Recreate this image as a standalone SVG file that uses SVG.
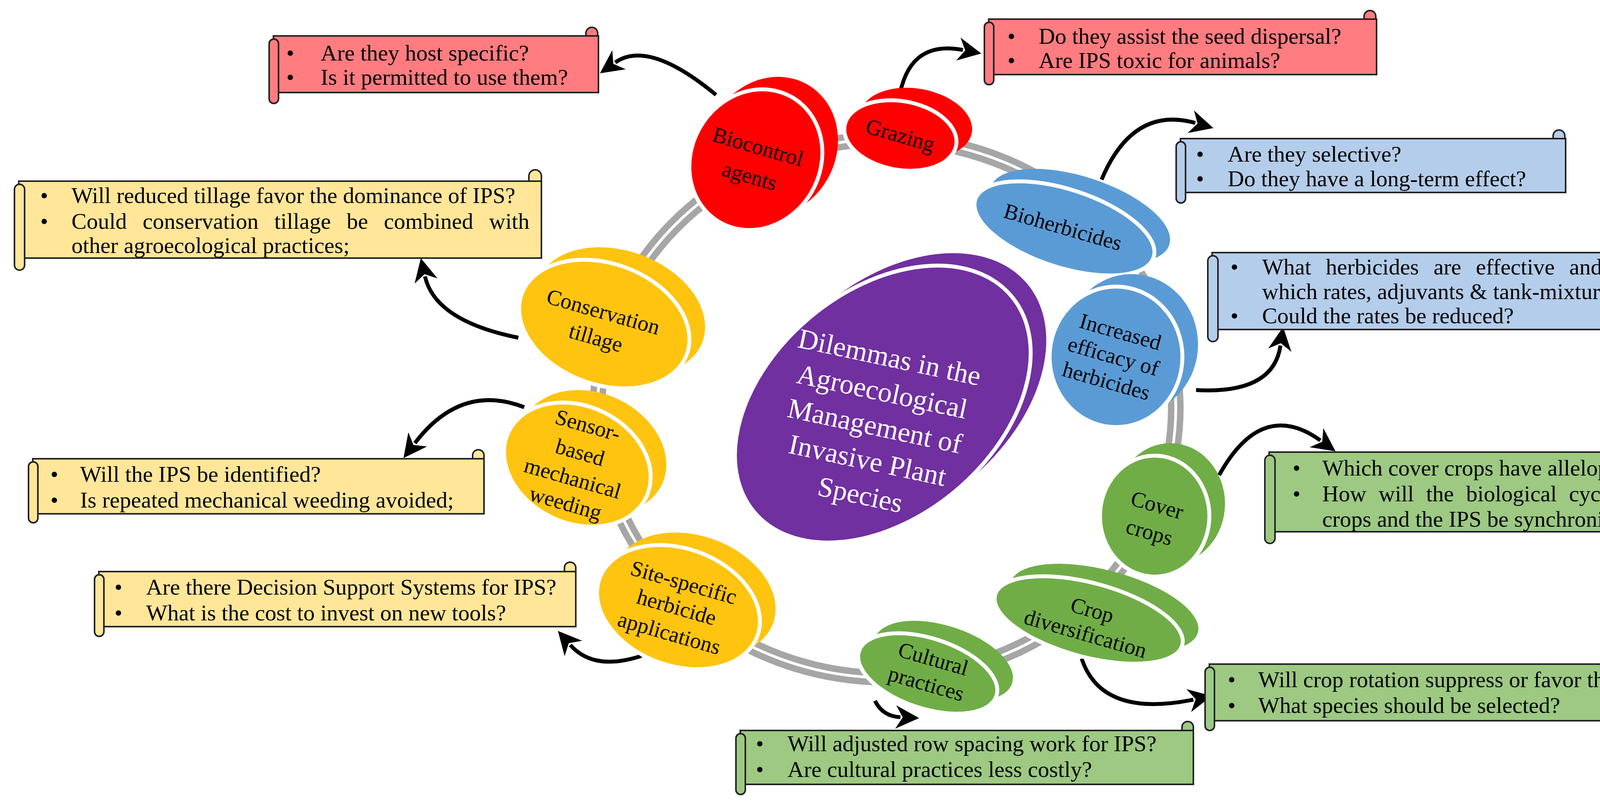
<svg xmlns="http://www.w3.org/2000/svg" width="4603" height="2067" viewBox="0 0 4603 2067">
<style>
.bt{font-family:"Liberation Serif","DejaVu Serif",serif;font-size:58px;fill:#000}
.nt{font-family:"Liberation Serif","DejaVu Serif",serif;font-size:56px;fill:#000;text-anchor:middle}
.pt{font-family:"Liberation Serif","DejaVu Serif",serif;font-size:72px;fill:#fff;text-anchor:middle}
.sc{stroke:#222;stroke-width:4}
.fr{stroke:#fff;stroke-width:10}
.arr{fill:none;stroke:#000;stroke-width:10;marker-end:url(#ah)}
</style>
<defs>
<marker id="ah" viewBox="0 0 10 10" refX="2" refY="5" markerWidth="6" markerHeight="6" orient="auto" markerUnits="strokeWidth">
<path d="M0,0 L10,5 L0,10 L3,5 Z" fill="#000"/>
</marker>
</defs>
<rect width="4603" height="2067" fill="#fff"/>
<g id="connectors">
<ellipse cx="2270" cy="1046" rx="740" ry="690" fill="none" stroke="#A6A6A6" stroke-width="40"/>
<ellipse cx="2270" cy="1046" rx="740" ry="690" fill="none" stroke="#fff" stroke-width="7"/>
<path class="arr" d="M1833,243 Q1660,100 1575,160"/>
<path class="arr" d="M2300,265 Q2320,100 2465,128"/>
<path class="arr" d="M2820,460 Q2900,270 3060,315"/>
<path class="arr" d="M3062,999 Q3260,1010 3278,885"/>
<path class="arr" d="M3121,1217 Q3230,1020 3380,1128"/>
<path class="arr" d="M2769,1687 Q2820,1840 3055,1792"/>
<path class="arr" d="M2240,1795 Q2260,1835 2305,1837"/>
<path class="arr" d="M1642,1680 Q1520,1720 1460,1652"/>
<path class="arr" d="M1342,1043 Q1180,980 1062,1135"/>
<path class="arr" d="M1327,865 Q1114,822 1088,708"/>
</g>
<g id="center">
<ellipse cx="2300" cy="1003" rx="430" ry="290" transform="rotate(-40 2300 1003)" fill="#7030A0"/>
<ellipse cx="2260" cy="1035" rx="430" ry="290" transform="rotate(-40 2260 1035)" fill="#7030A0" class="fr"/>
<g transform="rotate(12 2240 1090)">
<text class="pt" x="2240" y="935">Dilemmas in the</text>
<text class="pt" x="2240" y="1025">Agroecological</text>
<text class="pt" x="2240" y="1115">Management of</text>
<text class="pt" x="2240" y="1205">Invasive Plant</text>
<text class="pt" x="2240" y="1295">Species</text>
</g>
</g>
<g id="n-biocontrol">
<ellipse cx="1975" cy="377" rx="185" ry="165" transform="rotate(-60 1975 377)" fill="#FF0000"/>
<ellipse cx="1935" cy="409" rx="185" ry="165" transform="rotate(-60 1935 409)" fill="#FF0000" class="fr"/>
<g transform="rotate(16 1930 414)"><text class="nt" x="1930" y="393">Biocontrol</text><text class="nt" x="1930" y="471">agents</text></g>
</g>
<g id="n-grazing">
<ellipse cx="2345" cy="315" rx="145" ry="88" transform="rotate(10 2345 315)" fill="#FF0000"/>
<ellipse cx="2305" cy="347" rx="145" ry="88" transform="rotate(10 2305 347)" fill="#FF0000" class="fr"/>
<text class="nt" x="2305" y="365" transform="rotate(16 2305 347)">Grazing</text>
</g>
<g id="n-bioherbicides">
<ellipse cx="2765" cy="553" rx="240" ry="100" transform="rotate(18 2765 553)" fill="#5B9BD5"/>
<ellipse cx="2725" cy="585" rx="240" ry="100" transform="rotate(18 2725 585)" fill="#5B9BD5" class="fr"/>
<text class="nt" x="2720" y="600" transform="rotate(16 2720 585)">Bioherbicides</text>
</g>
<g id="n-increased">
<ellipse cx="2897" cy="882" rx="170" ry="180" fill="#5B9BD5"/>
<ellipse cx="2857" cy="914" rx="170" ry="180" fill="#5B9BD5" class="fr"/>
<g transform="rotate(16 2850 914)"><text class="nt" x="2850" y="866">Increased</text><text class="nt" x="2850" y="931">efficacy of</text><text class="nt" x="2850" y="997">herbicides</text></g>
</g>
<g id="n-cover">
<ellipse cx="2996" cy="1290" rx="140" ry="155" fill="#70AD47"/>
<ellipse cx="2956" cy="1322" rx="140" ry="155" fill="#70AD47" class="fr"/>
<g transform="rotate(16 2952 1330)"><text class="nt" x="2952" y="1311">Cover</text><text class="nt" x="2952" y="1383">crops</text></g>
</g>
<g id="n-cropdiv">
<ellipse cx="2827" cy="1556" rx="248" ry="95" transform="rotate(15 2827 1556)" fill="#70AD47"/>
<ellipse cx="2787" cy="1588" rx="248" ry="95" transform="rotate(15 2787 1588)" fill="#70AD47" class="fr"/>
<g transform="rotate(16 2787 1595)"><text class="nt" x="2787" y="1580">Crop</text><text class="nt" x="2787" y="1643">diversification</text></g>
</g>
<g id="n-cultural">
<ellipse cx="2415" cy="1693" rx="185" ry="90" transform="rotate(18 2415 1693)" fill="#70AD47"/>
<ellipse cx="2375" cy="1725" rx="185" ry="90" transform="rotate(18 2375 1725)" fill="#70AD47" class="fr"/>
<g transform="rotate(16 2380 1720)"><text class="nt" x="2380" y="1705">Cultural</text><text class="nt" x="2380" y="1771">practices</text></g>
</g>
<g id="n-site">
<ellipse cx="1777" cy="1523" rx="215" ry="150" transform="rotate(20 1777 1523)" fill="#FFC410"/>
<ellipse cx="1737" cy="1555" rx="215" ry="150" transform="rotate(20 1737 1555)" fill="#FFC410" class="fr"/>
<g transform="rotate(16 1732 1556)"><text class="nt" x="1732" y="1508">Site-specific</text><text class="nt" x="1732" y="1574">herbicide</text><text class="nt" x="1732" y="1643">applications</text></g>
</g>
<g id="n-sensor">
<ellipse cx="1518" cy="1158" rx="195" ry="150" transform="rotate(25 1518 1158)" fill="#FFC410"/>
<ellipse cx="1478" cy="1190" rx="195" ry="150" transform="rotate(25 1478 1190)" fill="#FFC410" class="fr"/>
<g transform="rotate(16 1476 1190)"><text class="nt" x="1476" y="1104">Sensor-</text><text class="nt" x="1476" y="1176">based</text><text class="nt" x="1476" y="1245">mechanical</text><text class="nt" x="1476" y="1311">weeding</text></g>
</g>
<g id="n-conservation">
<ellipse cx="1587" cy="798" rx="225" ry="155" transform="rotate(20 1587 798)" fill="#FFC410"/>
<ellipse cx="1547" cy="830" rx="225" ry="155" transform="rotate(20 1547 830)" fill="#FFC410" class="fr"/>
<g transform="rotate(16 1535 832)"><text class="nt" x="1535" y="816">Conservation</text><text class="nt" x="1535" y="885">tillage</text></g>
</g>
<g id="box-biocontrol">
<rect x="1500" y="70" width="30" height="40" rx="15" fill="#FF7C80" class="sc"/>
<rect x="700" y="92" width="832" height="145" fill="#FF7C80" class="sc"/>
<rect x="689" y="100" width="24" height="165" rx="12" fill="#FF7C80" class="sc"/>
<text class="bt" x="733" y="155">•</text><text class="bt" x="821" y="155">Are they host specific?</text>
<text class="bt" x="733" y="217">•</text><text class="bt" x="821" y="217">Is it permitted to use them?</text>
</g>
<g id="box-grazing">
<rect x="3492" y="27" width="30" height="40" rx="15" fill="#FF7C80" class="sc"/>
<rect x="2531" y="49" width="993" height="142" fill="#FF7C80" class="sc"/>
<rect x="2520" y="57" width="24" height="160" rx="12" fill="#FF7C80" class="sc"/>
<text class="bt" x="2579" y="112">•</text><text class="bt" x="2659" y="112">Do they assist the seed dispersal?</text>
<text class="bt" x="2579" y="174">•</text><text class="bt" x="2659" y="174">Are IPS toxic for animals?</text>
</g>
<g id="box-bioherbicides">
<rect x="3976" y="333" width="30" height="40" rx="15" fill="#B4CDEA" class="sc"/>
<rect x="3022" y="355" width="986" height="138" fill="#B4CDEA" class="sc"/>
<rect x="3011" y="363" width="24" height="157" rx="12" fill="#B4CDEA" class="sc"/>
<text class="bt" x="3062" y="414">•</text><text class="bt" x="3143" y="414">Are they selective?</text>
<text class="bt" x="3062" y="477">•</text><text class="bt" x="3143" y="477">Do they have a long-term effect?</text>
</g>
<g id="box-increased">
<rect x="4211" y="622" width="32" height="45" rx="16" fill="#B4CDEA" class="sc"/>
<rect x="3103" y="647" width="1140" height="197" fill="#B4CDEA" class="sc"/>
<rect x="3092" y="655" width="26" height="220" rx="13" fill="#B4CDEA" class="sc"/>
<text class="bt" x="3150" y="703">•</text><text class="bt" x="3231" y="703" word-spacing="23">What herbicides are effective and at</text>
<text class="bt" x="3231" y="766">which rates, adjuvants &amp; tank-mixtures?</text>
<text class="bt" x="3150" y="828">•</text><text class="bt" x="3231" y="828">Could the rates be reduced?</text>
</g>
<g id="box-conservation">
<rect x="1354" y="435" width="32" height="45" rx="16" fill="#FFE699" class="sc"/>
<rect x="48" y="464" width="1338" height="197" fill="#FFE699" class="sc"/>
<rect x="37" y="472" width="26" height="220" rx="13" fill="#FFE699" class="sc"/>
<text class="bt" x="103" y="520">•</text><text class="bt" x="183" y="520">Will reduced tillage favor the dominance of IPS?</text>
<text class="bt" x="103" y="586">•</text><text class="bt" x="183" y="586" word-spacing="26">Could conservation tillage be combined with</text>
<text class="bt" x="183" y="648">other agroecological practices;</text>
</g>
<g id="box-sensor">
<rect x="1210" y="1152" width="29" height="38" rx="14" fill="#FFE699" class="sc"/>
<rect x="84" y="1175" width="1155" height="141" fill="#FFE699" class="sc"/>
<rect x="73" y="1183" width="24" height="156" rx="12" fill="#FFE699" class="sc"/>
<text class="bt" x="129" y="1234">•</text><text class="bt" x="205" y="1234">Will the IPS be identified?</text>
<text class="bt" x="129" y="1300">•</text><text class="bt" x="205" y="1300">Is repeated mechanical weeding avoided;</text>
</g>
<g id="box-site">
<rect x="1445" y="1440" width="29" height="38" rx="14" fill="#FFE699" class="sc"/>
<rect x="253" y="1464" width="1221" height="141" fill="#FFE699" class="sc"/>
<rect x="242" y="1472" width="24" height="158" rx="12" fill="#FFE699" class="sc"/>
<text class="bt" x="293" y="1523">•</text><text class="bt" x="374" y="1523">Are there Decision Support Systems for IPS?</text>
<text class="bt" x="293" y="1589">•</text><text class="bt" x="374" y="1589">What is the cost to invest on new tools?</text>
</g>
<g id="box-cover">
<rect x="4541" y="1130" width="32" height="45" rx="16" fill="#9DC983" class="sc"/>
<rect x="3249" y="1158" width="1324" height="204" fill="#9DC983" class="sc"/>
<rect x="3238" y="1166" width="26" height="226" rx="13" fill="#9DC983" class="sc"/>
<text class="bt" x="3309" y="1218">•</text><text class="bt" x="3385" y="1218">Which cover crops have allelopathic potential?</text>
<text class="bt" x="3309" y="1284">•</text><text class="bt" x="3385" y="1284" word-spacing="17">How will the biological cycles of the cover</text>
<text class="bt" x="3385" y="1349">crops and the IPS be synchronized?</text>
</g>
<g id="box-cropdiv">
<rect x="4353" y="1678" width="29" height="38" rx="14" fill="#9DC983" class="sc"/>
<rect x="3096" y="1701" width="1286" height="145" fill="#9DC983" class="sc"/>
<rect x="3085" y="1709" width="24" height="162" rx="12" fill="#9DC983" class="sc"/>
<text class="bt" x="3143" y="1760">•</text><text class="bt" x="3221" y="1760">Will crop rotation suppress or favor the IPS?</text>
<text class="bt" x="3143" y="1826">•</text><text class="bt" x="3221" y="1826">What species should be selected?</text>
</g>
<g id="box-cultural">
<rect x="3026" y="1848" width="29" height="38" rx="14" fill="#9DC983" class="sc"/>
<rect x="1895" y="1871" width="1160" height="138" fill="#9DC983" class="sc"/>
<rect x="1884" y="1879" width="24" height="156" rx="12" fill="#9DC983" class="sc"/>
<text class="bt" x="1935" y="1924">•</text><text class="bt" x="2016" y="1924">Will adjusted row spacing work for IPS?</text>
<text class="bt" x="1935" y="1990">•</text><text class="bt" x="2016" y="1990">Are cultural practices less costly?</text>
</g>
</svg>
